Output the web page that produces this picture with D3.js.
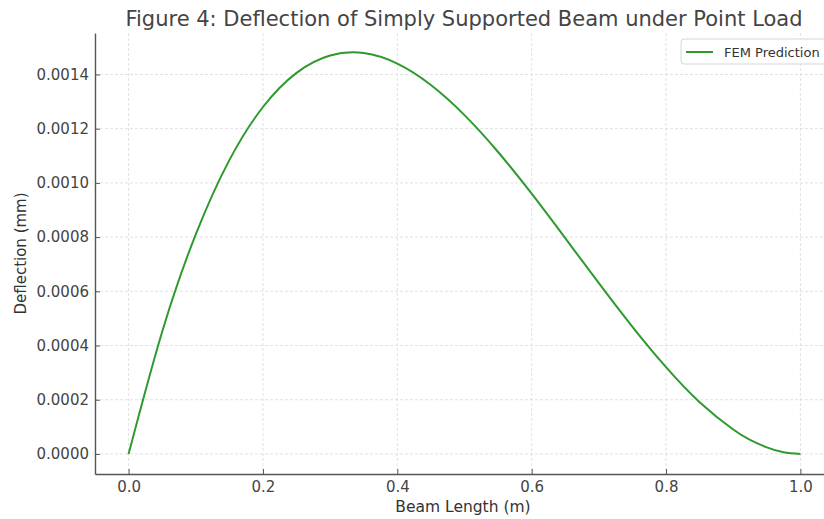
<!DOCTYPE html>
<html>
<head>
<meta charset="utf-8">
<script src="https://cdn.jsdelivr.net/npm/d3@7"></script>
<style>
	html, body { margin: 0; padding: 0; background: #fff; }
	#chart { width: 824px; height: 519px; overflow: hidden; }
	text { font-family: "DejaVu Sans", sans-serif; }
</style>
</head>
<body>
<div id="chart"></div>
<script>

// beam position (m)
const beamX = [0, 0.05, 0.1, 0.15, 0.2, 0.25, 0.3, 0.35, 0.4, 0.45, 0.5,
	0.55, 0.6, 0.65, 0.7, 0.75, 0.8, 0.85, 0.9, 0.925, 0.95, 0.975, 1.0];

// deflection (mm)
const deflection = [0, 0.000451, 0.00081, 0.001084, 0.00128, 0.001406, 0.00147,
	0.001479, 0.00144, 0.001361, 0.00125, 0.001114, 0.00096, 0.000796, 0.00063,
	0.000469, 0.00032, 0.000191, 0.00009, 0.000052, 0.000024, 0.000006, 0];

const xTicks = [0, 0.2, 0.4, 0.6, 0.8, 1.0];
const yTicks = [0, 0.0002, 0.0004, 0.0006, 0.0008, 0.0010, 0.0012, 0.0014];

const seriesName = "FEM Prediction";

function drawChart(rootDOM) {

	const W = 824;
	const H = 519;
	const m = {t:33, r:-10, b:45, l:95};

	const data = beamX.map((x, i) => ({x: x, y: deflection[i]}));

	const x = d3.scaleLinear()
		.domain([-0.05, 1.05])
		.range([m.l, W - m.r]);

	const y = d3.scaleLinear()
		.domain([-0.000074, 0.001553])
		.range([H - m.b, m.t]);

	const svg = d3.select(rootDOM)
		.append("svg")
		.attr("width", W)
		.attr("height", H);

	// grid
	svg.append("g")
		.selectAll("line")
		.data(xTicks)
		.enter()
		.append("line")
		.attr("x1", d => x(d)).attr("x2", d => x(d))
		.attr("y1", m.t).attr("y2", H - m.b)
		.attr("stroke", "#d9d9d9")
		.attr("stroke-width", 0.8)
		.attr("stroke-dasharray", "3,2");

	svg.append("g")
		.selectAll("line")
		.data(yTicks)
		.enter()
		.append("line")
		.attr("x1", m.l).attr("x2", W)
		.attr("y1", d => y(d)).attr("y2", d => y(d))
		.attr("stroke", "#d9d9d9")
		.attr("stroke-width", 0.8)
		.attr("stroke-dasharray", "3,2");

	// axes (ticks point inward)
	const xAxis = svg.append("g")
		.attr("transform", `translate(0,${H - m.b})`)
		.call(d3.axisBottom(x).tickValues(xTicks).tickFormat(d3.format(".1f"))
			.tickSizeInner(-5).tickSizeOuter(0).tickPadding(7.5));

	const yAxis = svg.append("g")
		.attr("transform", `translate(${m.l},0)`)
		.call(d3.axisLeft(y).tickValues(yTicks).tickFormat(d3.format(".4f"))
			.tickSizeInner(-5).tickSizeOuter(0).tickPadding(6));

	[xAxis, yAxis].forEach(g => {
		g.select(".domain").attr("stroke", "#555").attr("stroke-width", 1.4);
		g.selectAll(".tick line").attr("stroke", "#555").attr("stroke-width", 1);
		g.selectAll(".tick text")
			.attr("fill", "#444")
			.style("font-size", "15px")
			.style("font-family", "'DejaVu Sans', sans-serif");
	});

	// curve
	const line = d3.line()
		.x(d => x(d.x))
		.y(d => y(d.y))
		.curve(d3.curveNatural);

	svg.append("path")
		.datum(data)
		.attr("d", line)
		.attr("fill", "none")
		.attr("stroke", "#2e9a2e")
		.attr("stroke-width", 2);

	// title and axis labels
	svg.append("text")
		.attr("x", 464)
		.attr("y", 26)
		.attr("text-anchor", "middle")
		.attr("fill", "#444")
		.style("font-size", "21px")
		.text("Figure 4: Deflection of Simply Supported Beam under Point Load");

	svg.append("text")
		.attr("x", 463)
		.attr("y", 512)
		.attr("text-anchor", "middle")
		.attr("fill", "#333")
		.style("font-size", "15.5px")
		.text("Beam Length (m)");

	svg.append("text")
		.attr("transform", `translate(26,${(m.t + H - m.b) / 2}) rotate(-90)`)
		.attr("text-anchor", "middle")
		.attr("fill", "#333")
		.style("font-size", "15px")
		.text("Deflection (mm)");

	// legend
	const lg = svg.append("g").attr("transform", "translate(681,39)");

	lg.append("rect")
		.attr("width", 160)
		.attr("height", 25)
		.attr("rx", 3)
		.attr("fill", "#fff")
		.attr("stroke", "#d6d6d6");

	lg.append("line")
		.attr("x1", 5).attr("x2", 32)
		.attr("y1", 13).attr("y2", 13)
		.attr("stroke", "#2e9a2e")
		.attr("stroke-width", 2);

	lg.append("text")
		.attr("x", 43)
		.attr("y", 17.5)
		.attr("fill", "#333")
		.style("font-size", "13px")
		.text(seriesName);
}

drawChart(document.getElementById("chart"));

</script>
</body>
</html>
